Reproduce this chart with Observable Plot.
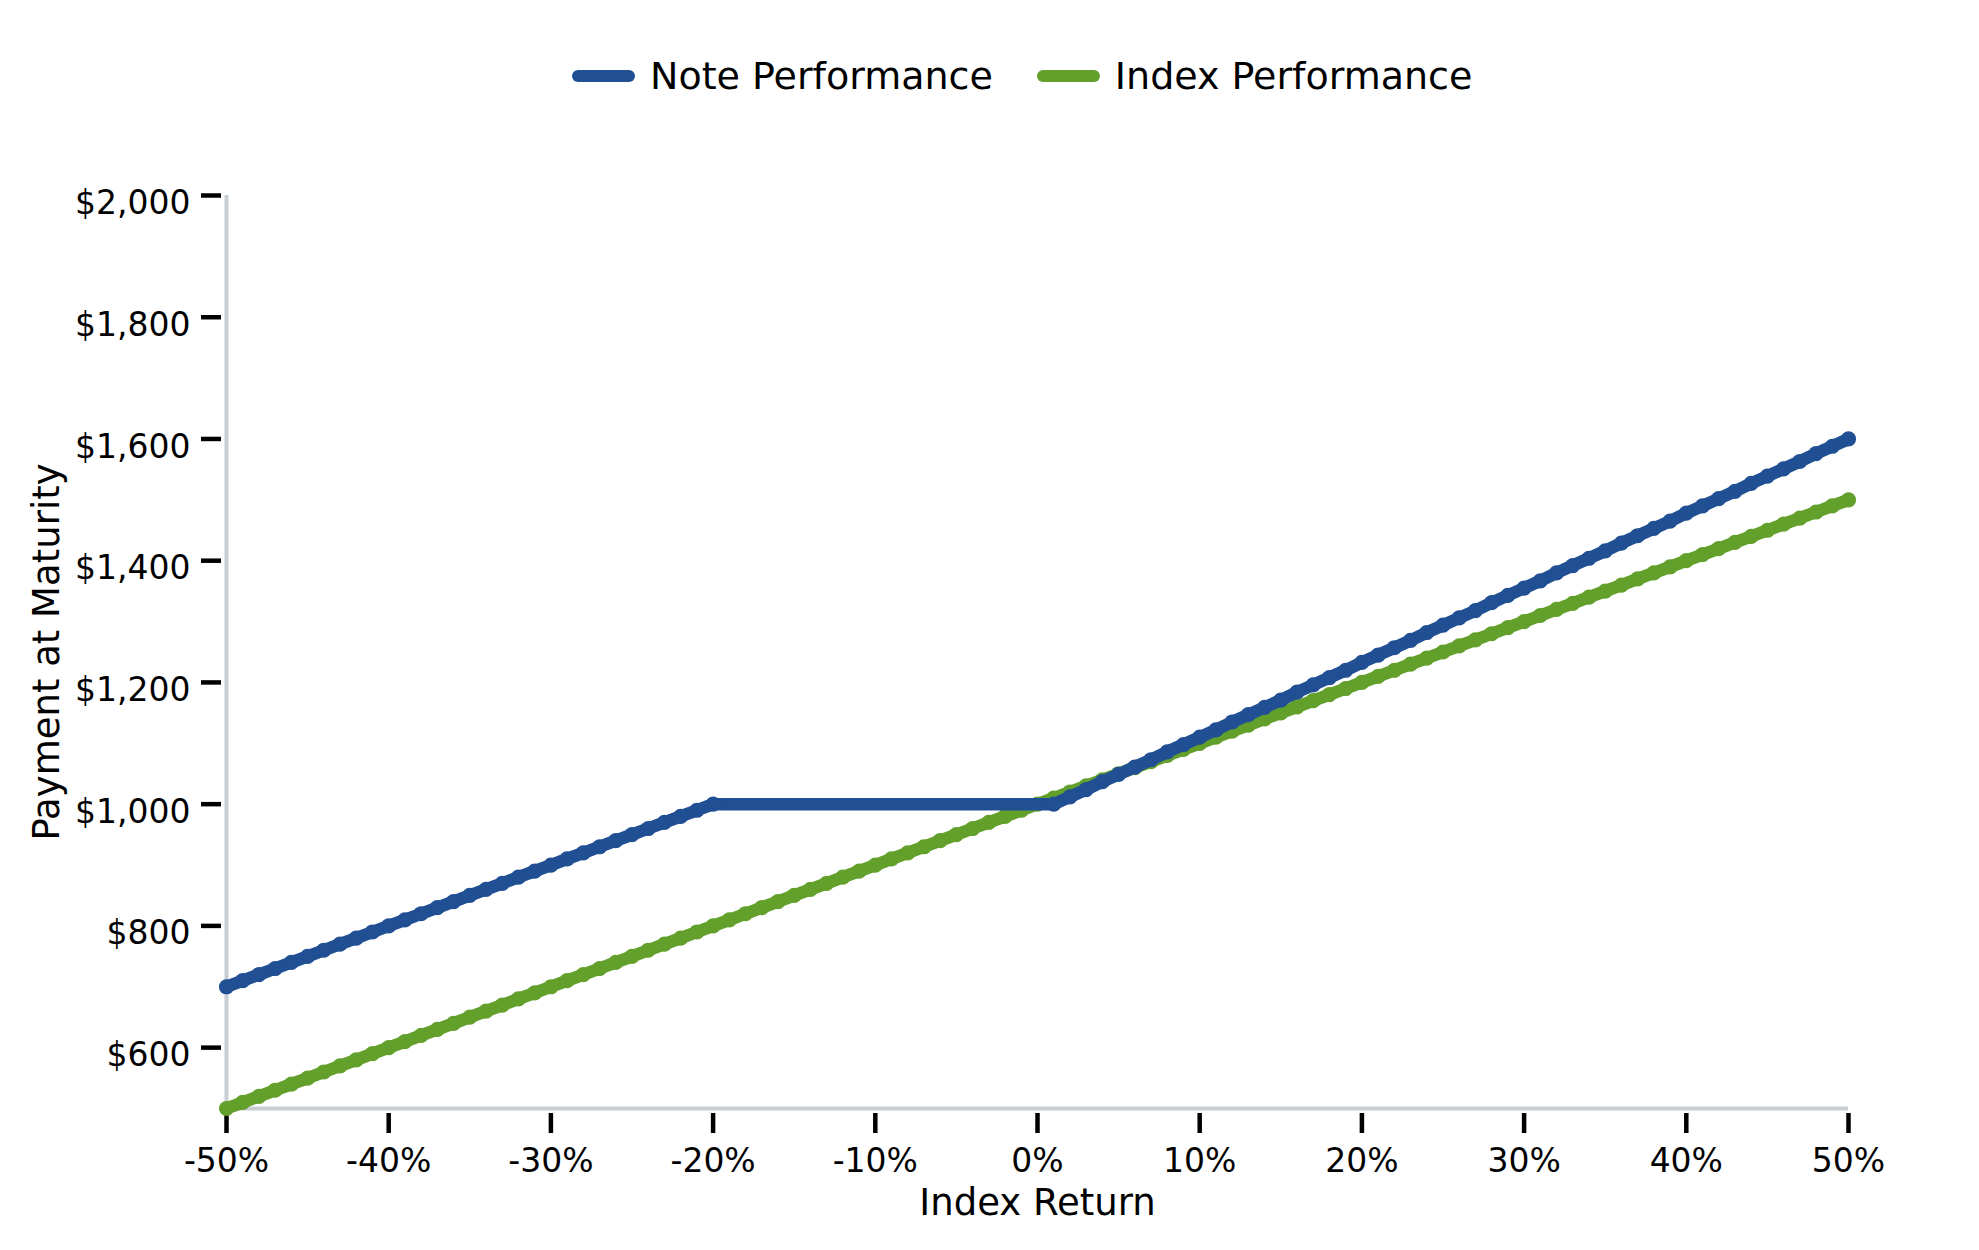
<!DOCTYPE html>
<html>
<head>
<meta charset="utf-8">
<script src="https://cdn.jsdelivr.net/npm/d3@7"></script>
<script src="https://cdn.jsdelivr.net/npm/@observablehq/plot@0.6"></script>
<style>
  html, body { margin: 0; padding: 0; background: #fff; }
  #wrap { position: relative; width: 1979px; height: 1250px; font-family: "DejaVu Sans", sans-serif; }
  #legend { position: absolute; top: 54px; left: 572px; display: flex; align-items: center; font-size: 38px; color: #000; white-space: nowrap; }
  .sw { width: 63px; height: 12px; border-radius: 6px; margin-right: 15px; }
  .item { display: flex; align-items: center; margin-right: 44px; }
  #chart { position: absolute; top: 0; left: 0; }
</style>
</head>
<body>
<div id="wrap">
  <div id="chart"></div>
  <div id="legend"></div>
</div>
<script>
const seriesNames = ["Note Performance", "Index Performance"];
const seriesColors = ["#214f93", "#62a02b"];

const indexReturn = [-50,-49,-48,-47,-46,-45,-44,-43,-42,-41,-40,-39,-38,-37,-36,-35,-34,-33,-32,-31,-30,-29,-28,-27,-26,-25,-24,-23,-22,-21,-20,-19,-18,-17,-16,-15,-14,-13,-12,-11,-10,-9,-8,-7,-6,-5,-4,-3,-2,-1,0,1,2,3,4,5,6,7,8,9,10,11,12,13,14,15,16,17,18,19,20,21,22,23,24,25,26,27,28,29,30,31,32,33,34,35,36,37,38,39,40,41,42,43,44,45,46,47,48,49,50];

const notePayment = [700,710,720,730,740,750,760,770,780,790,800,810,820,830,840,850,860,870,880,890,900,910,920,930,940,950,960,970,980,990,1000,1000,1000,1000,1000,1000,1000,1000,1000,1000,1000,1000,1000,1000,1000,1000,1000,1000,1000,1000,1000,1000,1012,1024,1037,1049,1061,1073,1086,1098,1110,1122,1135,1147,1159,1171,1184,1196,1208,1220,1233,1245,1257,1269,1282,1294,1306,1318,1331,1343,1355,1367,1380,1392,1404,1416,1429,1441,1453,1465,1478,1490,1502,1514,1527,1539,1551,1563,1576,1588,1600];

const indexPayment = [500,510,520,530,540,550,560,570,580,590,600,610,620,630,640,650,660,670,680,690,700,710,720,730,740,750,760,770,780,790,800,810,820,830,840,850,860,870,880,890,900,910,920,930,940,950,960,970,980,990,1000,1010,1020,1030,1040,1050,1060,1070,1080,1090,1100,1110,1120,1130,1140,1150,1160,1170,1180,1190,1200,1210,1220,1230,1240,1250,1260,1270,1280,1290,1300,1310,1320,1330,1340,1350,1360,1370,1380,1390,1400,1410,1420,1430,1440,1450,1460,1470,1480,1490,1500];

const xTicks = [-50,-40,-30,-20,-10,0,10,20,30,40,50];
const yTicks = [600,800,1000,1200,1400,1600,1800,2000];
const xTitle = "Index Return";
const yTitle = "Payment at Maturity";

const rows = indexReturn.map((r, i) => ({r, note: notePayment[i], index: indexPayment[i]}));
// interior points of the flat stretch show no marker bumps in the reference
const noteMarkerRows = rows.filter((d, i) =>
  !(i > 0 && i < rows.length - 1 && notePayment[i - 1] === notePayment[i] && notePayment[i + 1] === notePayment[i]));

const axisGray = "#c8cdd2";
const fmtMoney = d => "$" + d3.format(",")(d);

const chart = Plot.plot({
  width: 1979,
  height: 1250,
  marginLeft: 226,
  marginRight: 131,
  marginTop: 195,
  marginBottom: 142,
  style: {fontFamily: "DejaVu Sans, sans-serif", background: "transparent", color: "#000"},
  x: {domain: [-50, 50]},
  y: {domain: [500, 2000]},
  marks: [
    Plot.ruleX([-50], {y1: 500, y2: 2000, stroke: axisGray, strokeWidth: 4}),
    Plot.ruleY([500], {x1: -50, x2: 50, stroke: axisGray, strokeWidth: 4}),
    Plot.axisY(yTicks, {tickSize: 20, dx: -5, tickFormat: () => "", strokeWidth: 4.5, label: null}),
    Plot.axisY(yTicks, {tickSize: 0, tickPadding: 36, dy: 8, tickFormat: fmtMoney, fontSize: 33, label: null}),
    Plot.axisX(xTicks, {tickSize: 20, dy: 5, tickFormat: () => "", strokeWidth: 4.5, label: null}),
    Plot.axisX(xTicks, {tickSize: 0, tickPadding: 40, tickFormat: d => d + "%", fontSize: 33, label: null}),
    Plot.line(rows, {x: "r", y: "index", stroke: seriesColors[1], strokeWidth: 12.5, strokeLinejoin: "round", strokeLinecap: "round"}),
    Plot.dot(rows, {x: "r", y: "index", r: 7.6, fill: seriesColors[1], stroke: "none"}),
    Plot.line(rows, {x: "r", y: "note", stroke: seriesColors[0], strokeWidth: 12.5, strokeLinejoin: "round", strokeLinecap: "round"}),
    Plot.dot(noteMarkerRows, {x: "r", y: "note", r: 7.6, fill: seriesColors[0], stroke: "none"}),
    Plot.text([yTitle], {text: d => d, frameAnchor: "left", textAnchor: "middle", dx: -179, rotate: -90, fontSize: 37}),
    Plot.text([xTitle], {text: d => d, frameAnchor: "bottom", dy: 106, fontSize: 37})
  ]
});
document.getElementById("chart").appendChild(chart);

const legend = document.getElementById("legend");
seriesNames.forEach((name, i) => {
  const item = document.createElement("div");
  item.className = "item";
  const sw = document.createElement("div");
  sw.className = "sw";
  sw.style.background = seriesColors[i];
  const label = document.createElement("span");
  label.textContent = name;
  item.appendChild(sw);
  item.appendChild(label);
  legend.appendChild(item);
});
</script>
</body>
</html>
